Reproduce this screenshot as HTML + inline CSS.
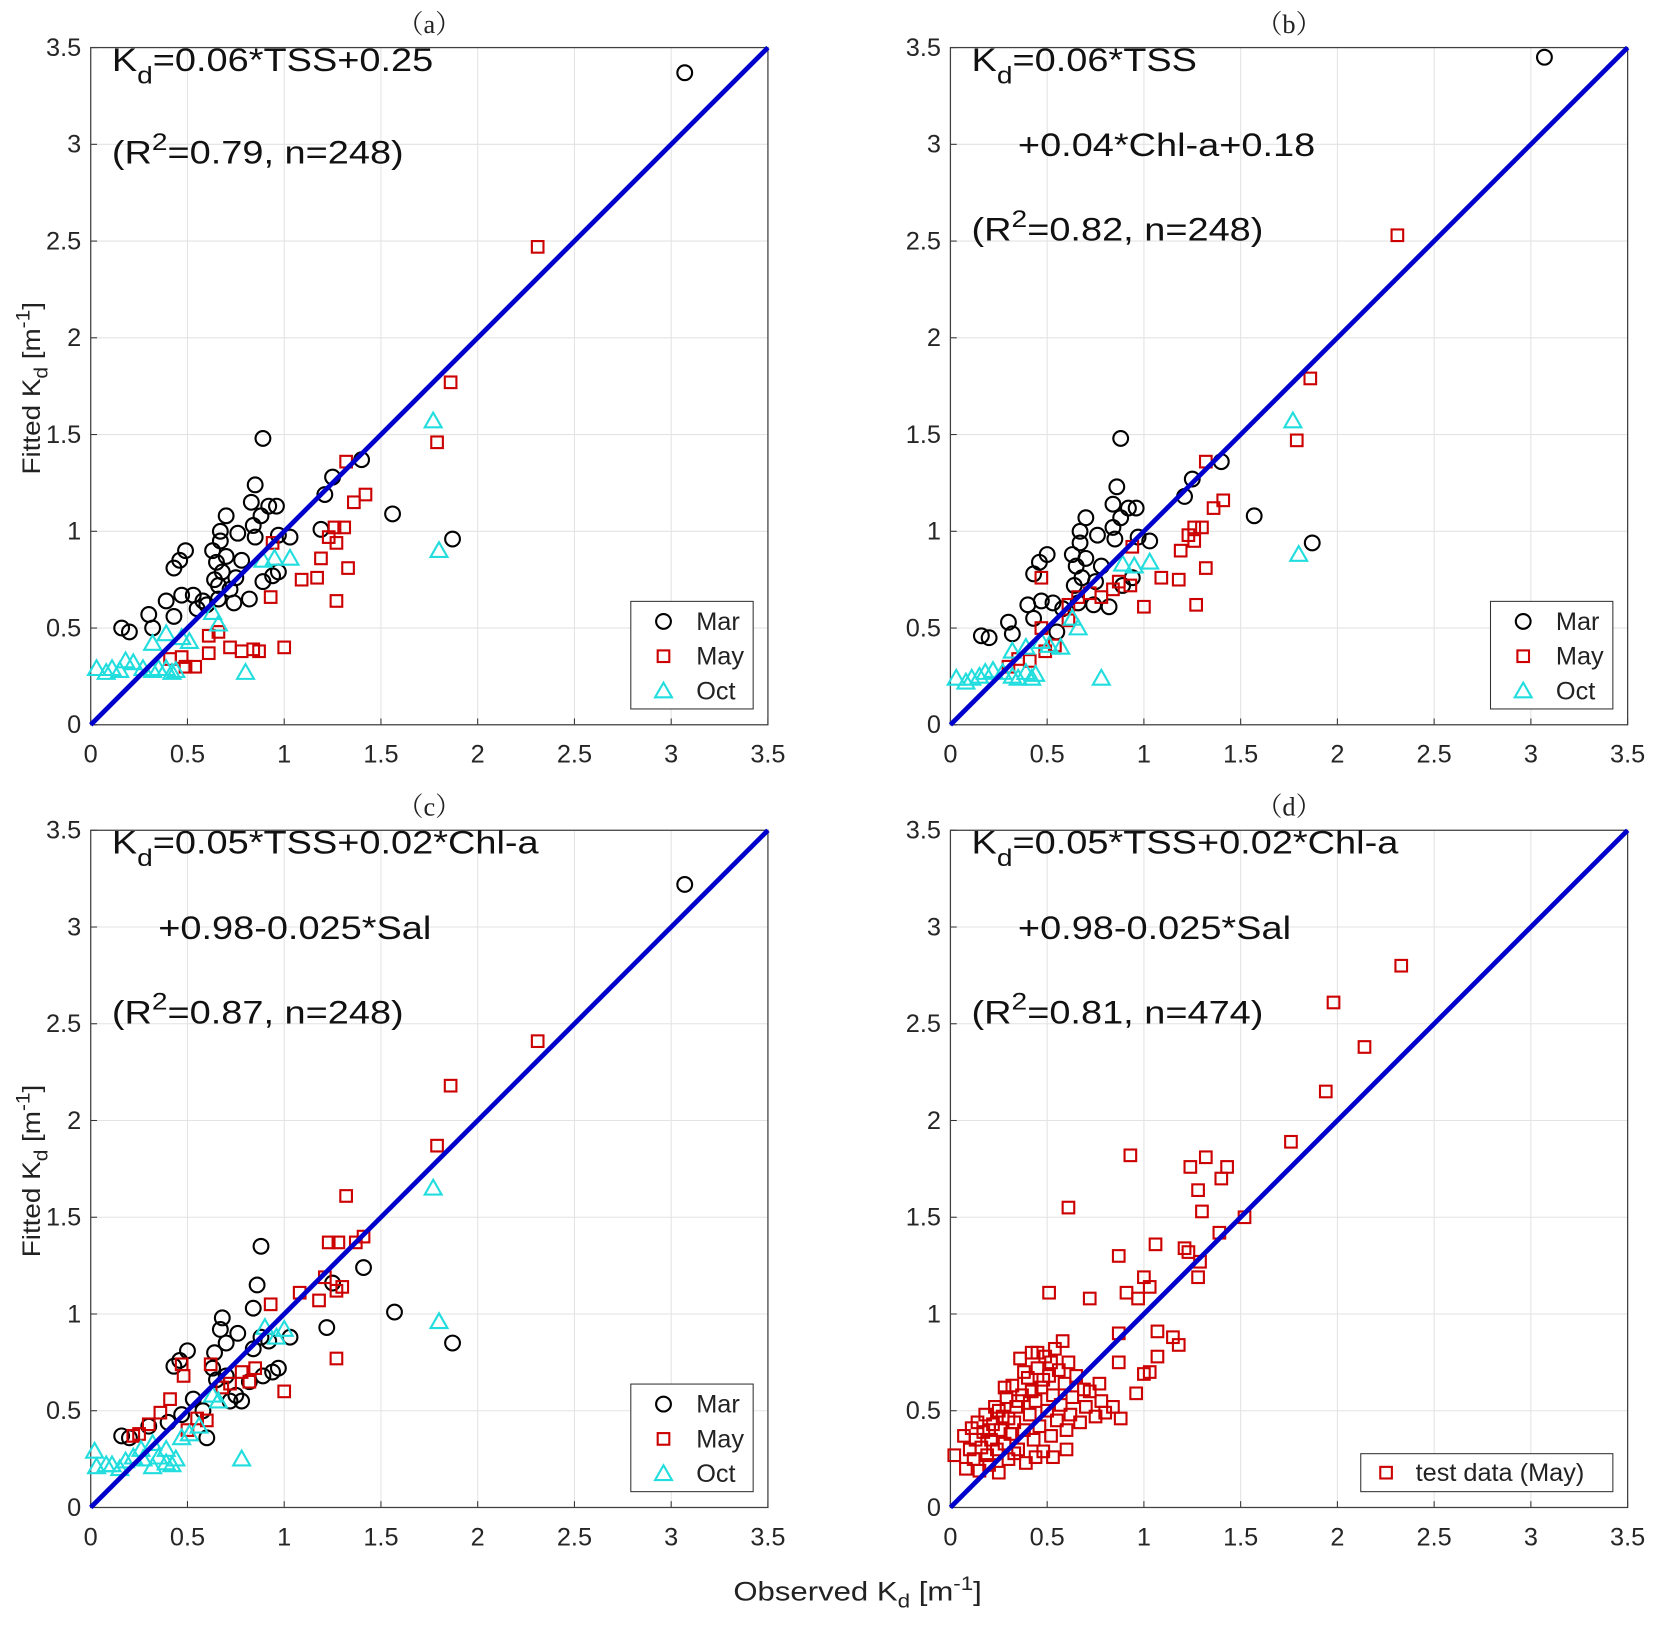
<!DOCTYPE html>
<html><head><meta charset="utf-8"><style>
html,body{margin:0;padding:0;background:#fff;}
svg{display:block;font-family:"Liberation Sans",Arial,sans-serif;}
</style></head><body>
<svg id="fig" width="1654" height="1631" viewBox="0 0 1568 1546" xmlns="http://www.w3.org/2000/svg"></svg>
<script>
const ticks = [0,0.5,1,1.5,2,2.5,3,3.5];
const tickLabels = ["0","0.5","1","1.5","2","2.5","3","3.5"];
const panelLabels = ["（a）","（b）","（c）","（d）"];
const marA = [[3.07,3.37],[0.89,1.48],[1.40,1.37],[1.25,1.28],[1.21,1.19],[1.56,1.09],[1.87,0.96],[0.85,1.24],[0.83,1.15],[0.92,1.13],[0.96,1.13],[0.70,1.08],[0.88,1.08],[0.67,1.00],[0.76,0.99],[0.84,1.03],[0.85,0.97],[0.97,0.98],[1.03,0.97],[1.19,1.01],[0.67,0.95],[0.49,0.90],[0.46,0.85],[0.43,0.81],[0.63,0.90],[0.70,0.87],[0.78,0.85],[0.65,0.84],[0.68,0.79],[0.64,0.75],[0.75,0.76],[0.89,0.74],[0.94,0.77],[0.97,0.79],[0.39,0.64],[0.47,0.67],[0.53,0.67],[0.58,0.64],[0.43,0.56],[0.30,0.57],[0.32,0.50],[0.16,0.50],[0.20,0.48],[0.66,0.65],[0.74,0.63],[0.82,0.65],[0.60,0.62],[0.55,0.60],[0.66,0.72],[0.72,0.70]];
const mayA = [[2.31,2.47],[1.86,1.77],[1.79,1.46],[1.32,1.36],[1.42,1.19],[1.36,1.15],[1.26,1.02],[1.31,1.02],[1.23,0.97],[1.27,0.94],[1.19,0.86],[1.33,0.81],[1.17,0.76],[1.09,0.75],[1.27,0.64],[0.93,0.66],[0.94,0.94],[1.00,0.40],[0.72,0.40],[0.78,0.38],[0.84,0.39],[0.87,0.38],[0.61,0.37],[0.66,0.48],[0.61,0.46],[0.47,0.35],[0.54,0.30],[0.49,0.30],[0.41,0.34]];
const octA = [[1.77,1.57],[1.80,0.90],[1.03,0.86],[0.95,0.86],[0.89,0.85],[0.80,0.27],[0.66,0.52],[0.63,0.58],[0.51,0.43],[0.32,0.42],[0.39,0.47],[0.18,0.33],[0.22,0.32],[0.03,0.29],[0.11,0.29],[0.15,0.28],[0.08,0.27],[0.27,0.29],[0.32,0.28],[0.39,0.29],[0.44,0.28],[0.35,0.29],[0.42,0.27],[0.47,0.45]];
const marB = [[3.07,3.45],[0.88,1.48],[1.40,1.36],[1.25,1.27],[1.21,1.18],[1.57,1.08],[1.87,0.94],[0.86,1.23],[0.84,1.14],[0.92,1.12],[0.96,1.12],[0.70,1.07],[0.88,1.07],[0.67,1.00],[0.76,0.98],[0.84,1.02],[0.85,0.96],[0.97,0.97],[1.03,0.95],[0.67,0.94],[0.50,0.88],[0.46,0.84],[0.43,0.78],[0.63,0.88],[0.70,0.86],[0.78,0.82],[0.65,0.82],[0.68,0.76],[0.64,0.72],[0.75,0.74],[0.89,0.72],[0.94,0.76],[0.40,0.62],[0.47,0.64],[0.53,0.63],[0.58,0.60],[0.43,0.55],[0.30,0.53],[0.32,0.47],[0.16,0.46],[0.20,0.45],[0.66,0.63],[0.74,0.62],[0.82,0.61],[0.55,0.48]];
const mayB = [[2.31,2.53],[1.86,1.79],[1.79,1.47],[1.32,1.36],[1.41,1.16],[1.36,1.12],[1.26,1.02],[1.30,1.02],[1.23,0.98],[1.26,0.95],[1.19,0.90],[1.32,0.81],[1.18,0.75],[1.09,0.76],[1.27,0.62],[0.93,0.72],[0.94,0.92],[1.00,0.61],[0.72,0.68],[0.78,0.66],[0.84,0.70],[0.87,0.74],[0.61,0.62],[0.66,0.66],[0.61,0.54],[0.47,0.50],[0.54,0.41],[0.49,0.38],[0.41,0.33],[0.47,0.76],[0.35,0.34],[0.30,0.30]];
const octB = [[1.77,1.57],[1.80,0.88],[1.03,0.84],[0.95,0.82],[0.89,0.83],[0.78,0.24],[0.66,0.50],[0.63,0.55],[0.51,0.41],[0.32,0.38],[0.39,0.40],[0.18,0.27],[0.22,0.28],[0.03,0.24],[0.11,0.24],[0.15,0.25],[0.08,0.22],[0.27,0.27],[0.32,0.25],[0.39,0.27],[0.44,0.26],[0.35,0.24],[0.42,0.24],[0.47,0.43],[0.57,0.40]];
const marC = [[3.07,3.22],[0.88,1.35],[0.86,1.15],[1.41,1.24],[1.25,1.16],[1.22,0.93],[1.57,1.01],[1.87,0.85],[0.84,1.03],[0.68,0.98],[0.67,0.92],[0.76,0.90],[0.88,0.88],[0.70,0.85],[0.64,0.80],[0.84,0.82],[0.92,0.86],[0.97,0.72],[0.94,0.70],[0.89,0.68],[1.03,0.88],[0.50,0.81],[0.46,0.76],[0.43,0.73],[0.63,0.72],[0.70,0.68],[0.65,0.66],[0.75,0.58],[0.78,0.55],[0.72,0.55],[0.60,0.36],[0.53,0.56],[0.47,0.48],[0.40,0.44],[0.30,0.42],[0.16,0.37],[0.20,0.36],[0.58,0.50],[0.82,0.65]];
const mayC = [[2.31,2.41],[1.86,2.18],[1.79,1.87],[1.32,1.61],[1.41,1.40],[1.37,1.37],[1.23,1.37],[1.28,1.37],[1.21,1.19],[1.08,1.11],[1.30,1.14],[1.27,1.12],[1.18,1.07],[1.27,0.77],[1.00,0.60],[0.93,1.05],[0.85,0.72],[0.82,0.65],[0.78,0.70],[0.72,0.64],[0.68,0.62],[0.62,0.74],[0.48,0.68],[0.47,0.74],[0.41,0.56],[0.36,0.49],[0.55,0.46],[0.60,0.45],[0.25,0.38],[0.22,0.37],[0.50,0.40],[0.30,0.43]];
const octC = [[1.77,1.65],[1.80,0.96],[0.78,0.25],[0.90,0.93],[1.00,0.92],[0.96,0.88],[0.66,0.55],[0.63,0.58],[0.51,0.38],[0.47,0.36],[0.32,0.33],[0.39,0.30],[0.18,0.24],[0.22,0.26],[0.02,0.29],[0.03,0.21],[0.11,0.22],[0.15,0.20],[0.08,0.22],[0.27,0.25],[0.32,0.21],[0.39,0.23],[0.44,0.25],[0.35,0.26],[0.42,0.22],[0.26,0.30],[0.56,0.42]];
const testD = [[2.33,2.80],[1.98,2.61],[2.14,2.38],[1.94,2.15],[1.76,1.89],[0.93,1.82],[1.32,1.81],[1.24,1.76],[1.43,1.76],[1.40,1.70],[1.28,1.64],[1.30,1.53],[0.61,1.55],[1.52,1.50],[1.39,1.42],[1.06,1.36],[1.21,1.34],[1.23,1.32],[1.29,1.27],[0.87,1.30],[1.00,1.19],[1.03,1.14],[0.91,1.11],[0.97,1.08],[0.51,1.11],[0.72,1.08],[1.28,1.19],[1.07,0.91],[1.15,0.88],[1.18,0.84],[0.87,0.90],[0.87,0.75],[1.07,0.78],[1.03,0.70],[1.00,0.69],[0.77,0.64],[0.69,0.61],[0.96,0.59],[0.02,0.27],[0.07,0.37],[0.08,0.20],[0.10,0.30],[0.11,0.41],[0.12,0.25],[0.13,0.35],[0.14,0.44],[0.15,0.19],[0.16,0.31],[0.17,0.39],[0.18,0.48],[0.19,0.27],[0.20,0.22],[0.21,0.35],[0.22,0.43],[0.23,0.52],[0.24,0.30],[0.25,0.18],[0.26,0.40],[0.27,0.47],[0.28,0.33],[0.29,0.57],[0.30,0.25],[0.31,0.38],[0.32,0.63],[0.33,0.44],[0.34,0.52],[0.35,0.30],[0.36,0.77],[0.37,0.58],[0.38,0.40],[0.39,0.23],[0.40,0.67],[0.41,0.48],[0.42,0.80],[0.43,0.35],[0.44,0.55],[0.45,0.72],[0.46,0.42],[0.47,0.62],[0.48,0.29],[0.49,0.78],[0.50,0.50],[0.51,0.68],[0.52,0.37],[0.53,0.58],[0.54,0.82],[0.55,0.45],[0.56,0.71],[0.57,0.53],[0.58,0.86],[0.59,0.64],[0.60,0.40],[0.61,0.75],[0.62,0.48],[0.63,0.57],[0.65,0.68],[0.67,0.44],[0.70,0.52],[0.72,0.60],[0.75,0.47],[0.78,0.55],[0.80,0.49],[0.84,0.52],[0.88,0.46],[0.35,0.55],[0.28,0.62],[0.25,0.50],[0.42,0.60],[0.48,0.66],[0.52,0.75],[0.38,0.70],[0.45,0.80],[0.30,0.46],[0.20,0.40],[0.33,0.28],[0.44,0.26],[0.53,0.26],[0.60,0.30]];

const NS = "http://www.w3.org/2000/svg";
const svg = document.getElementById('fig');
function mk(tag, attrs, parent){const e=document.createElementNS(NS,tag);for(const k in attrs)e.setAttribute(k,attrs[k]);(parent||svg).appendChild(e);return e;}

const panels = [
 {x0:86,y0:687,series:[["mar",marA],["may",mayA],["oct",octA]],legend:"full",
  eq:[["K","d","=0.06*TSS+0.25",106,67],["(R","2","=0.79, n=248)",106,155,true]]},
 {x0:901,y0:687,series:[["mar",marB],["may",mayB],["oct",octB]],legend:"full",
  eq:[["K","d","=0.06*TSS",921,67],["","","+0.04*Chl-a+0.18",965,148],["(R","2","=0.82, n=248)",921,228,true]]},
 {x0:86,y0:1429,series:[["mar",marC],["may",mayC],["oct",octC]],legend:"full",
  eq:[["K","d","=0.05*TSS+0.02*Chl-a",106,809],["","","+0.98-0.025*Sal",150,890],["(R","2","=0.87, n=248)",106,970,true]]},
 {x0:901,y0:1429,series:[["may",testD]],legend:"test",
  eq:[["K","d","=0.05*TSS+0.02*Chl-a",921,809],["","","+0.98-0.025*Sal",965,890],["(R","2","=0.81, n=474)",921,970,true]]}
];
const W=642,H=642,MAX=3.5;

function marker(g,kind,cx,cy){
  let e;
  if(kind==="mar"){e=mk('circle',{cx:cx,cy:cy,r:7,fill:'none',stroke:'#000','stroke-width':2},g);}
  else if(kind==="may"){e=mk('rect',{x:cx-5.5,y:cy-5.5,width:11,height:11,fill:'none',stroke:'#cc0000','stroke-width':2},g);}
  else {e=mk('polygon',{points:`${cx},${cy-8} ${cx-8},${cy+6} ${cx+8},${cy+6}`,fill:'none',stroke:'#22dddd','stroke-width':2},g);}
  return e;
}

panels.forEach((p,i)=>{
  const g=mk('g',{});
  
  
  const sx=v=>p.x0+v/MAX*W, sy=v=>p.y0-v/MAX*H;
  ticks.forEach((t,k)=>{
    if(k>0&&k<ticks.length-1){
      mk('line',{x1:sx(t),x2:sx(t),y1:sy(0),y2:sy(MAX),stroke:'#e3e3e3','stroke-width':1},g);
      mk('line',{x1:sx(0),x2:sx(MAX),y1:sy(t),y2:sy(t),stroke:'#e3e3e3','stroke-width':1},g);
    }
    mk('line',{x1:sx(t),x2:sx(t),y1:sy(0),y2:sy(0)-6,stroke:'#333','stroke-width':1},g);
    mk('line',{x1:sx(0),x2:sx(0)+6,y1:sy(t),y2:sy(t),stroke:'#333','stroke-width':1},g);
    const xl=mk('text',{x:sx(t),y:sy(0)+36,'font-size':24,'text-anchor':'middle',fill:'#262626'},g);
    xl.textContent=tickLabels[k];
    
    
    const yl=mk('text',{x:sx(0)-9,y:sy(t)+8,'font-size':24,'text-anchor':'end',fill:'#262626'},g);
    yl.textContent=tickLabels[k];
    
    
  });
  const box=mk('rect',{x:sx(0),y:sy(MAX),width:W,height:H,fill:'none',stroke:'#404040','stroke-width':1.2},g);
  
  
  p.series.forEach(([kind,data])=>{
    data.forEach(d=>{
      const m=marker(g,kind,sx(d[0]),sy(d[1]));
      
      
    });
  });
  const l=mk('line',{x1:sx(0),y1:sy(0),x2:sx(MAX),y2:sy(MAX),stroke:'#0000cc','stroke-width':4.5},g);
  
  
  const t=mk('text',{x:sx(1.75),y:p.y0-H-14,'font-size':25,'text-anchor':'middle',fill:'#222'},g);
  t.setAttribute('font-family','"Liberation Serif","Noto Serif CJK SC",serif');
  t.textContent=panelLabels[i];
  
  
  p.eq.forEach(([a,sub,b,x,y,sup])=>{
    const tx=mk('text',{x:0,y:0,'font-size':31,fill:'#111',transform:`translate(${x},${y}) scale(1.16,1)`},g);
    
    
    if(a){const s=mk('tspan',{},tx);s.textContent=a;}
    if(sub){const s=mk('tspan',{'font-size':23,dy:sup?-13:12},tx);s.textContent=sub;
      const s2=mk('tspan',{dy:sup?13:-12},tx);s2.textContent=b;}
    else {const s=mk('tspan',{},tx);s.textContent=b;}
  });
  const lg=mk('g',{},g);
  
  
  if(p.legend==="full"){
    const bx=sx(MAX)-130, by=sy(0)-117;
    mk('rect',{x:bx,y:by,width:116,height:102,fill:'#fff',stroke:'#333','stroke-width':1},lg);
    [["mar","Mar"],["may","May"],["oct","Oct"]].forEach(([k,name],j)=>{
      const cy=by+19+j*33;
      marker(lg,k,bx+31,cy);
      const tt=mk('text',{x:bx+62,y:cy+8,'font-size':24,fill:'#222'},lg);
      tt.textContent=name;
      
      
    });
  } else {
    const bx=sx(MAX)-253, by=sy(0)-51;
    mk('rect',{x:bx,y:by,width:239,height:36,fill:'#fff',stroke:'#333','stroke-width':1},lg);
    marker(lg,"may",bx+24,by+18);
    const tt=mk('text',{x:bx+52,y:by+26,'font-size':24,fill:'#222'},lg);
    tt.textContent="test data (May)";
    
    
  }
});

function addTitle(t){
  const a=mk('tspan',{},t);a.textContent=t.getAttribute('data-label');
  const b=mk('tspan',{'font-size':18,dy:7},t);b.textContent="d";
  const c=mk('tspan',{dy:-7},t);c.textContent=" [m";
  const d=mk('tspan',{'font-size':18,dy:-10},t);d.textContent="-1";
  const e=mk('tspan',{dy:10},t);e.textContent="]";
}
function yTitle(cy){
  const t=mk('text',{transform:`translate(38,${cy}) rotate(-90) scale(1.1,1)`,'font-size':24,'text-anchor':'middle',fill:'#222','data-label':'Fitted K'});
  
  
  addTitle(t);
}
yTitle(368);yTitle(1110);
const xt=mk('text',{transform:'translate(813,1517) scale(1.18,1)','font-size':25,'text-anchor':'middle',fill:'#222','data-label':'Observed K'});


addTitle(xt);
</script>
</body></html>
